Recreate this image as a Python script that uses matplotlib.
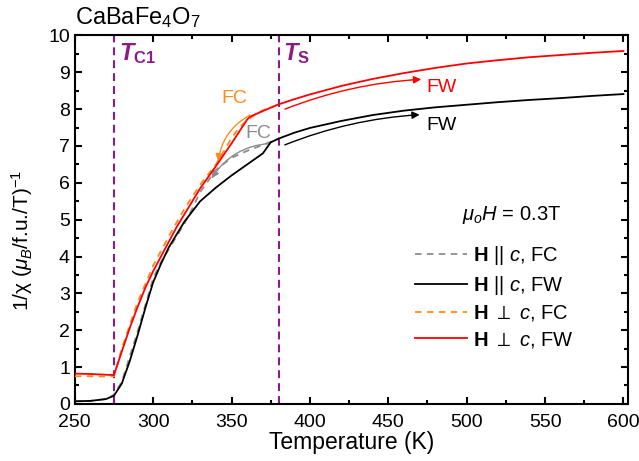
import matplotlib
matplotlib.use("Agg")
import matplotlib.pyplot as plt
from matplotlib.ticker import MultipleLocator

plt.rcParams['font.family'] = ['Liberation Sans', 'DejaVu Sans']
plt.rcParams['mathtext.fontset'] = 'custom'
plt.rcParams['mathtext.rm'] = 'Liberation Sans'
plt.rcParams['mathtext.it'] = 'Liberation Sans:italic'
plt.rcParams['mathtext.bf'] = 'Liberation Sans:bold'
plt.rcParams['mathtext.bfit'] = 'Liberation Sans:bold:italic'

# ---- data ----
T_par_fw = [250, 260, 270, 275, 280, 285, 290, 295, 300, 305, 310, 320, 330, 340, 350,
            360, 370, 375, 380, 390, 400, 420, 440, 460, 480, 500, 520, 540, 560, 580, 600]
chi_par_fw = [0.07, 0.08, 0.13, 0.22, 0.55, 1.15, 1.85, 2.6, 3.3, 3.8, 4.25, 4.95, 5.5, 5.87, 6.2,
              6.5, 6.8, 7.1, 7.2, 7.36, 7.49, 7.68, 7.84, 7.96, 8.05, 8.12, 8.19, 8.25, 8.3, 8.36, 8.41]

T_par_fc = [250, 260, 270, 275, 280, 290, 300, 305, 310, 320, 325, 330, 340, 350, 360, 370, 380]
chi_par_fc = [0.07, 0.08, 0.13, 0.25, 0.6, 1.95, 3.4, 3.85, 4.2, 4.9, 5.3, 5.75, 6.35, 6.68, 6.87, 7.03, 7.2]

T_perp_fw = [250, 260, 270, 275, 280, 285, 290, 295, 300, 305, 310, 315, 320, 330, 340, 350, 360,
             362, 370, 380, 390, 400, 420, 440, 460, 480, 500, 520, 540, 560, 580, 600]
chi_perp_fw = [0.82, 0.81, 0.79, 0.78, 1.42, 2.05, 2.62, 3.15, 3.6, 4.0, 4.4, 4.8, 5.15, 5.85, 6.45,
               7.07, 7.72, 7.8, 7.95, 8.13, 8.27, 8.4, 8.63, 8.82, 8.98, 9.12, 9.24, 9.33, 9.41, 9.47, 9.53, 9.58]

T_perp_fc = [250, 260, 270, 275, 280, 290, 300, 310, 320, 330, 340, 345, 350, 355, 360, 365, 370, 380]
chi_perp_fc = [0.75, 0.75, 0.74, 0.75, 1.5, 2.75, 3.75, 4.55, 5.3, 5.95, 6.5, 6.85, 7.22, 7.5, 7.7, 7.85, 7.97, 8.13]

T_c1 = 275
T_s = 380

purple = '#8B1A8B'
orange = '#FF8C1A'
gray = '#8C8C8C'

fig = plt.figure(figsize=(6.39, 4.61), dpi=100)
ax = fig.add_axes([0.117, 0.124, 0.866, 0.799])

ax.plot(T_par_fc, chi_par_fc, color=gray, lw=1.3, ls=(0, (3.6, 3)), label=r'$\mathbf{H}$ || $c$, FC', zorder=3)
ax.plot(T_par_fw, chi_par_fw, color='black', lw=1.3, label=r'$\mathbf{H}$ || $c$, FW', zorder=4)
ax.plot(T_perp_fc, chi_perp_fc, color=orange, lw=1.3, ls=(0, (3.6, 3)), label=r'$\mathbf{H}$ $\perp$ $c$, FC', zorder=3)
ax.plot(T_perp_fw, chi_perp_fw, color='red', lw=1.3, label=r'$\mathbf{H}$ $\perp$ $c$, FW', zorder=4)

ax.axvline(T_c1, color=purple, lw=1.5, ls=(0, (3.8, 2.4)), zorder=2)
ax.axvline(T_s, color=purple, lw=1.5, ls=(0, (3.8, 2.4)), zorder=2)

ax.text(T_c1 + 3, 9.5, r'$\mathbfit{T}_{\mathbf{C1}}$', color=purple, fontsize=17, va='center')
ax.text(T_s + 3, 9.5, r'$\mathbfit{T}_{\mathbf{S}}$', color=purple, fontsize=17, va='center')

# arrows and labels
ap = dict(arrowstyle='-|>', lw=1.0, mutation_scale=11, shrinkA=0, shrinkB=0)
ax.annotate('', xy=(471, 8.81), xytext=(384, 8.0),
            arrowprops=dict(ap, color='red', connectionstyle='arc3,rad=-0.08'))
ax.annotate('', xy=(470, 7.85), xytext=(384, 7.03),
            arrowprops=dict(ap, color='black', connectionstyle='arc3,rad=-0.08'))
ax.annotate('', xy=(341.5, 6.58), xytext=(361.7, 7.84),
            arrowprops=dict(ap, color=orange, connectionstyle='arc3,rad=0.25'))
ax.annotate('', xy=(337.3, 6.12), xytext=(374.5, 7.07),
            arrowprops=dict(ap, color=gray, connectionstyle='arc3,rad=0.25'))
ax.text(474, 8.6, 'FW', color='red', fontsize=14, va='center')
ax.text(474, 7.55, 'FW', color='black', fontsize=14, va='center')
ax.text(352, 8.3, 'FC', color=orange, fontsize=14, va='center', ha='center')
ax.text(367, 7.35, 'FC', color=gray, fontsize=14, va='center', ha='center')

ax.text(0.699, 0.513, r'$\mu_o H$ = 0.3T', transform=ax.transAxes, fontsize=14.5, va='center')
ax.legend(loc='upper left', bbox_to_anchor=(0.6, 0.455), frameon=False, fontsize=14.5,
          handlelength=2.6, handletextpad=0.3, labelspacing=0.32, borderaxespad=0)

ax.set_xlim(250, 603)
ax.set_ylim(0, 10)
ax.xaxis.set_major_locator(MultipleLocator(50))
ax.xaxis.set_minor_locator(MultipleLocator(25))
ax.yaxis.set_major_locator(MultipleLocator(1))
ax.yaxis.set_minor_locator(MultipleLocator(0.5))
ax.tick_params(which='both', direction='in', top=True, right=True, width=1.5, labelsize=14)
ax.tick_params(which='major', length=5)
ax.tick_params(which='minor', length=3)
ax.tick_params(axis='x', pad=7)
for s in ax.spines.values():
    s.set_linewidth(1.5)

ax.set_xlabel('Temperature (K)', fontsize=16.5, labelpad=0)
ax.set_ylabel(r'1/χ ($\mu_B$/f.u./T)$^{-1}$', fontsize=15)
ax.yaxis.set_label_coords(-0.072, 0.443)

fig.text(75 / 639, 0.963, r'CaBaFe$_4$O$_7$', fontsize=17, va='center')

fig.savefig('out.png', dpi=100)
